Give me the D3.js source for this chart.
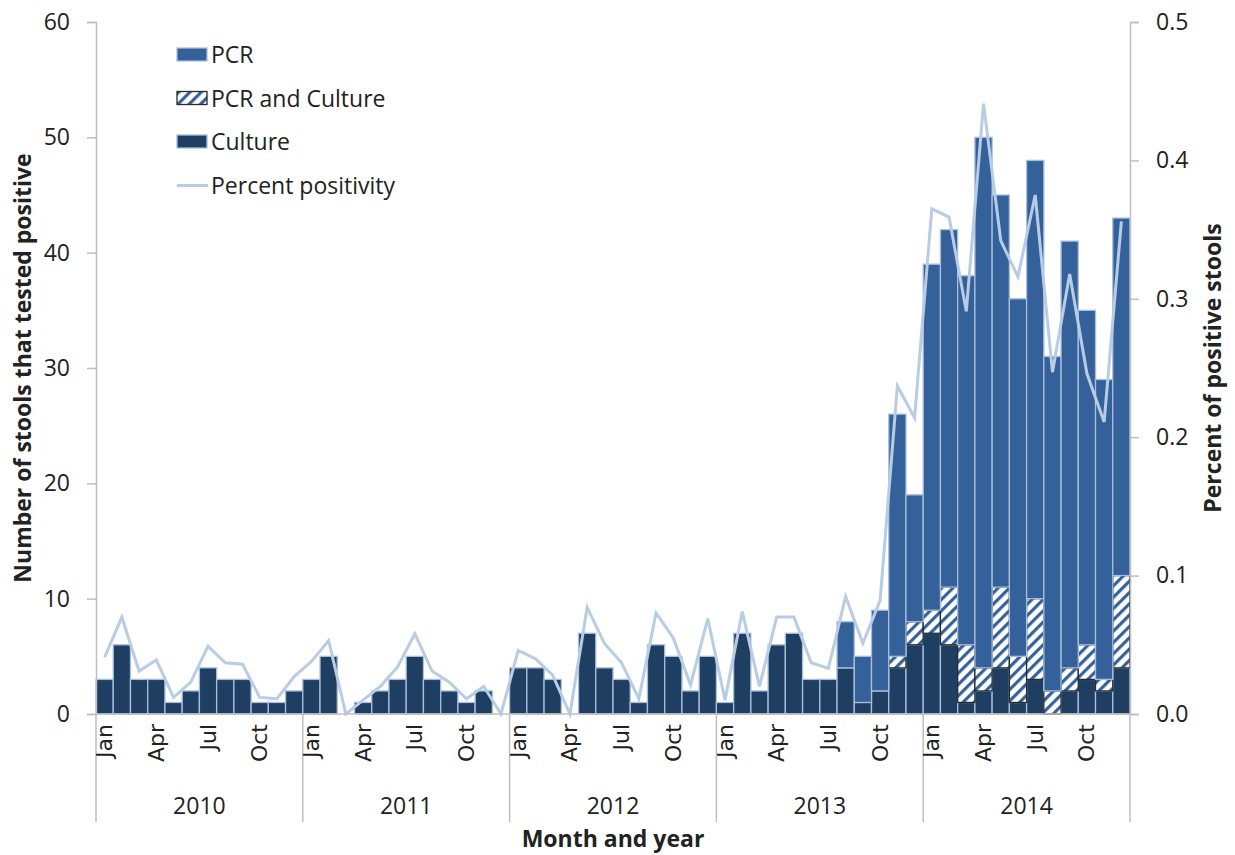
<!DOCTYPE html>
<html>
<head>
<meta charset="utf-8">
<script src="https://cdn.jsdelivr.net/npm/d3@7"></script>
<style>
  body { margin: 0; background: #fff; }
  text { font-family: "Open Sans", Lato, sans-serif; fill: #222; }
</style>
</head>
<body>
<div class="container"></div>
<script>
const years = ["2010", "2011", "2012", "2013", "2014"];
const monthNames = ["Jan", "Feb", "Mar", "Apr", "May", "Jun", "Jul", "Aug", "Sep", "Oct", "Nov", "Dec"];
const shownMonths = ["Jan", "Apr", "Jul", "Oct"];

// counts per month, Jan 2010 .. Dec 2014
const culture = [
  3, 6, 3, 3, 1, 2, 4, 3, 3, 1, 1, 2,
  3, 5, 0, 1, 2, 3, 5, 3, 2, 1, 2, 0,
  4, 4, 3, 0, 7, 4, 3, 1, 6, 5, 2, 5,
  1, 7, 2, 6, 7, 3, 3, 4, 1, 2, 4, 6,
  7, 6, 1, 2, 4, 1, 3, 0, 2, 3, 2, 4
];
const pcrCulture = [
  0, 0, 0, 0, 0, 0, 0, 0, 0, 0, 0, 0,
  0, 0, 0, 0, 0, 0, 0, 0, 0, 0, 0, 0,
  0, 0, 0, 0, 0, 0, 0, 0, 0, 0, 0, 0,
  0, 0, 0, 0, 0, 0, 0, 0, 0, 0, 1, 2,
  2, 5, 5, 2, 7, 4, 7, 2, 2, 3, 1, 8
];
const pcr = [
  0, 0, 0, 0, 0, 0, 0, 0, 0, 0, 0, 0,
  0, 0, 0, 0, 0, 0, 0, 0, 0, 0, 0, 0,
  0, 0, 0, 0, 0, 0, 0, 0, 0, 0, 0, 0,
  0, 0, 0, 0, 0, 0, 0, 4, 4, 7, 21, 11,
  30, 31, 32, 46, 34, 31, 38, 29, 37, 29, 26, 31
];
const positivity = [
  0.041, 0.070, 0.031, 0.039, 0.012, 0.023, 0.049, 0.037, 0.036, 0.012, 0.011, 0.027,
  0.038, 0.053, 0.000, 0.010, 0.020, 0.034, 0.058, 0.031, 0.023, 0.011, 0.020, 0.000,
  0.046, 0.040, 0.028, 0.000, 0.077, 0.051, 0.037, 0.011, 0.073, 0.055, 0.021, 0.069,
  0.010, 0.074, 0.020, 0.070, 0.070, 0.037, 0.033, 0.085, 0.051, 0.082, 0.237, 0.214,
  0.365, 0.359, 0.291, 0.441, 0.342, 0.316, 0.375, 0.247, 0.318, 0.246, 0.211, 0.356
];
const leftTicks = [0, 10, 20, 30, 40, 50, 60];
const rightTicks = [0, 0.1, 0.2, 0.3, 0.4, 0.5];

const W = 1235, H = 855;
const plotLeft = 96, plotRight = 1130, plotTop = 22, plotBottom = 714;

let svg = d3.select(".container")
  .append("svg")
  .attr("width", W)
  .attr("height", H);

let months = [];
years.forEach(yr => monthNames.forEach(m => months.push(yr + "-" + m)));

let x = d3.scaleBand().domain(months).range([plotLeft, plotRight]).padding(0);
let y = d3.scaleLinear().domain([0, 60]).range([plotBottom, plotTop]);
let y2 = d3.scaleLinear().domain([0, 0.5]).range([plotBottom, plotTop]);

// hatch pattern
let defs = svg.append("defs");
let pat = defs.append("pattern")
  .attr("id", "hatch")
  .attr("patternUnits", "userSpaceOnUse")
  .attr("width", 8)
  .attr("height", 8)
  .attr("patternTransform", "rotate(45)");
pat.append("rect").attr("width", 8).attr("height", 8).attr("fill", "#fff");
pat.append("rect").attr("width", 3.2).attr("height", 8).attr("fill", "#35629a");

const cPCR = "#35619a", cCult = "#1f3f62", cLine = "#b8cde5", cEdge = "#a9bedb";

// stacked bars
let rows = months.map((m, i) => ({ m: m, culture: culture[i], both: pcrCulture[i], pcr: pcr[i] }));
let stack = d3.stack().keys(["culture", "both", "pcr"])(rows);
let fills = { culture: cCult, both: "url(#hatch)", pcr: cPCR };
let edges = { culture: cEdge, both: "#2a2a2a", pcr: cEdge };

let bars = svg.append("g").attr("class", "bars");
stack.forEach(layer => {
  bars.append("g")
    .selectAll("rect")
    .data(layer.filter(d => d[1] > d[0]))
    .join("rect")
    .attr("x", d => x(d.data.m))
    .attr("y", d => y(d[1]))
    .attr("width", x.bandwidth())
    .attr("height", d => y(d[0]) - y(d[1]))
    .attr("fill", fills[layer.key])
    .attr("stroke", edges[layer.key])
    .attr("stroke-width", 1.3);
});

// percent positivity line
let line = d3.line()
  .x((d, i) => x(months[i]) + x.bandwidth() / 2)
  .y(d => y2(d));
svg.append("path")
  .datum(positivity)
  .attr("d", line)
  .attr("fill", "none")
  .attr("stroke", cLine)
  .attr("stroke-width", 3)
  .attr("stroke-linejoin", "miter");

// axes
const axisColor = "#bfbfbf";
let yAxis = svg.append("g")
  .attr("transform", `translate(${plotLeft},0)`)
  .call(d3.axisLeft(y).tickValues(leftTicks).tickSize(9).tickPadding(17));
let yAxis2 = svg.append("g")
  .attr("transform", `translate(${plotRight},0)`)
  .call(d3.axisRight(y2).tickValues(rightTicks).tickSize(9).tickPadding(17).tickFormat(d3.format(".1f")));
[yAxis, yAxis2].forEach(a => {
  a.select(".domain").attr("stroke", axisColor).attr("stroke-width", 1.5);
  a.selectAll(".tick line").attr("stroke", axisColor).attr("stroke-width", 1.5);
  a.selectAll(".tick text")
    .attr("font-size", 23)
    .attr("fill", "#222");
});

// x axis baseline and year separators
let xg = svg.append("g");
xg.append("line")
  .attr("x1", plotLeft).attr("x2", plotRight)
  .attr("y1", plotBottom).attr("y2", plotBottom)
  .attr("stroke", axisColor).attr("stroke-width", 1.5);
years.forEach(yr => {
  let x0 = x(yr + "-Jan");
  xg.append("line")
    .attr("x1", x0).attr("x2", x0)
    .attr("y1", plotBottom).attr("y2", 822)
    .attr("stroke", axisColor).attr("stroke-width", 1.5);
  xg.append("text")
    .attr("x", x0 + x.bandwidth() * 6)
    .attr("y", 814)
    .attr("text-anchor", "middle")
    .attr("font-size", 23)
    .text(yr);
  shownMonths.forEach(m => {
    let cx = x(yr + "-" + m) + x.bandwidth() / 2;
    xg.append("text")
      .attr("transform", `translate(${cx},724) rotate(-90)`)
      .attr("text-anchor", "end")
      .attr("dominant-baseline", "central")
      .style("font-family", "'DejaVu Sans', sans-serif")
      .attr("font-size", 22)
      .text(m);
  });
});
xg.append("line")
  .attr("x1", plotRight).attr("x2", plotRight)
  .attr("y1", plotBottom).attr("y2", 822)
  .attr("stroke", axisColor).attr("stroke-width", 1.5);

// axis titles
svg.append("text")
  .attr("transform", `translate(31,${(plotTop + plotBottom) / 2}) rotate(-90)`)
  .attr("text-anchor", "middle")
  .attr("font-size", 23)
  .attr("font-weight", "bold")
  .text("Number of stools that tested positive");
svg.append("text")
  .attr("transform", `translate(1221,${(plotTop + plotBottom) / 2}) rotate(-90)`)
  .attr("text-anchor", "middle")
  .attr("font-size", 23)
  .attr("font-weight", "bold")
  .text("Percent of positive stools");
svg.append("text")
  .attr("x", (plotLeft + plotRight) / 2)
  .attr("y", 847)
  .attr("text-anchor", "middle")
  .attr("font-size", 23)
  .attr("font-weight", "bold")
  .text("Month and year");

// legend
let legendItems = [
  { label: "PCR", fill: cPCR, stroke: cEdge },
  { label: "PCR and Culture", fill: "url(#hatch)", stroke: "#2a2a2a" },
  { label: "Culture", fill: cCult, stroke: cEdge },
  { label: "Percent positivity", line: true }
];
let legend = svg.append("g").attr("transform", "translate(177,48)");
legendItems.forEach((it, i) => {
  let g = legend.append("g").attr("transform", `translate(0,${i * 43.5})`);
  if (it.line) {
    g.append("line")
      .attr("x1", 0).attr("x2", 31)
      .attr("y1", 7).attr("y2", 7)
      .attr("stroke", cLine).attr("stroke-width", 3);
  } else {
    g.append("rect")
      .attr("width", 30).attr("height", 13)
      .attr("fill", it.fill)
      .attr("stroke", it.stroke)
      .attr("stroke-width", 1.3);
  }
  g.append("text")
    .attr("x", 34)
    .attr("y", 15)
    .attr("font-size", 23)
    .text(it.label);
});
</script>
</body>
</html>
